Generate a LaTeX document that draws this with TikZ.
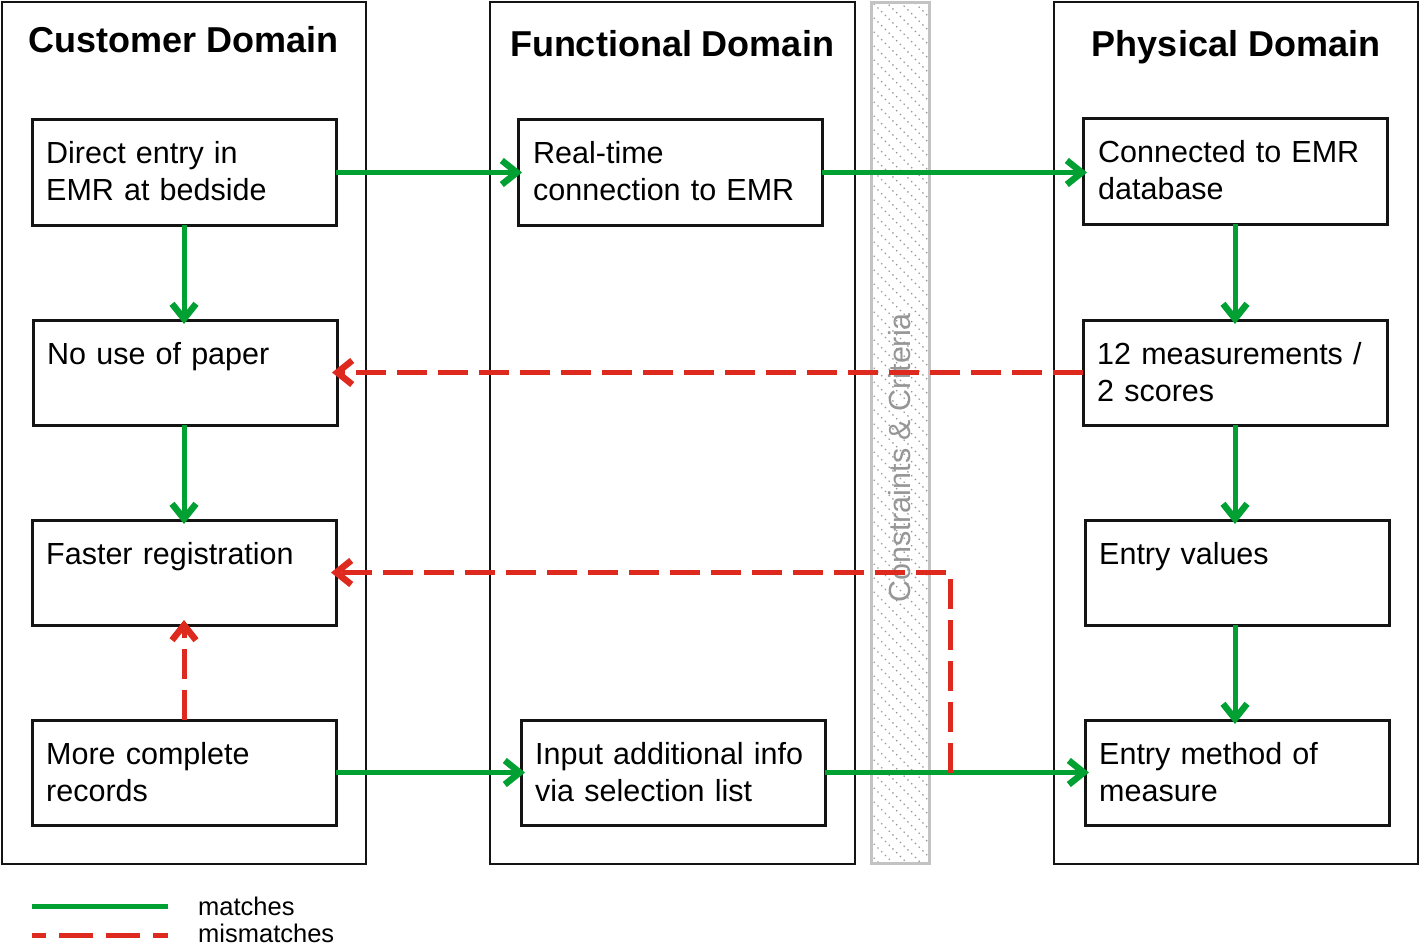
\documentclass[tikz,border=0pt]{standalone}
\usepackage{fontspec}
\setmainfont{Liberation Sans}
\usetikzlibrary{arrows.meta,calc}
\definecolor{mgreen}{RGB}{0,160,50}
\definecolor{mred}{RGB}{222,42,30}
\definecolor{cgray}{RGB}{150,150,150}
\definecolor{cborder}{RGB}{195,195,195}
\begin{document}
\begin{tikzpicture}[x=1pt,y=-1pt,
  dombox/.style={draw=black!92, line width=2.8pt},
  itembox/.style={draw=black!92, line width=3pt, minimum width=304pt, minimum height=105pt, inner sep=0pt, outer sep=0pt, anchor=north west},
  itemlbl/.style={font=\fontsize{30.5}{37}\selectfont, anchor=base west, align=left, inner sep=0pt, text width=300pt},
  domtitle/.style={font=\fontsize{36}{40}\selectfont\bfseries, anchor=base, inner sep=0pt},
  legtext/.style={font=\fontsize{25.5}{30}\selectfont, anchor=base west, inner sep=0pt},
  matcharrow/.style={draw=mgreen, line width=5pt, -{Straight Barb[length=15pt,width=24pt,line width=0pt 1.3]}, shorten >=-4pt},
  mismatcharrow/.style={draw=mred, line width=5pt, dash pattern=on 30pt off 11pt, -{Straight Barb[length=15pt,width=24pt,line width=0pt 1.3]}, shorten >=-5pt},
]
\useasboundingbox (0,0) rectangle (1420,944);

% domains
\draw[dombox] (2,2) rectangle (366,864);
\draw[dombox] (490,2) rectangle (855,864);
\draw[dombox] (1054,2) rectangle (1418,864);
\node[domtitle] (tc) at (184,53) {Customer Domain};
\node[domtitle] (tf) at (672,57) {Functional Domain};
\node[domtitle] (tp) at (1236,57) {Physical Domain};

% constraints column
\begin{scope}
  \clip (871,3) rectangle (929,863);
  \foreach \i in {-6,...,66} {
    \draw[cgray, line width=1.1pt, dash pattern=on 1.3pt off 4pt] (870,14*\i) -- (935,14*\i+65);
  }
\end{scope}
\draw[cborder, line width=3pt] (871,3) rectangle (929,863);
\node[rotate=90, anchor=base, text=cgray, font=\fontsize{30.5}{37}\selectfont, inner sep=0pt] (cc) at (910,458) {Constraints \& Criteria};

% boxes
\node[itembox] (b1) at (32,120) {};
\node[itembox] (b2) at (33,320) {};
\node[itembox] (b3) at (32,520) {};
\node[itembox] (b4) at (32,720) {};
\node[itembox] (f1) at (518,120) {};
\node[itembox] (f2) at (521,720) {};
\node[itembox] (p1) at (1083,119) {};
\node[itembox] (p2) at (1083,320) {};
\node[itembox] (p3) at (1085,520) {};
\node[itembox] (p4) at (1085,720) {};

\node[itemlbl] (t1) at ($(b1.north west)+(14,44)$) {Direct entry in\\EMR at bedside};
\node[itemlbl] (t2) at ($(b2.north west)+(14,44)$) {No use of paper};
\node[itemlbl] (t3) at ($(b3.north west)+(14,44)$) {Faster registration};
\node[itemlbl] (t4) at ($(b4.north west)+(14,44)$) {More complete\\records};
\node[itemlbl] (t5) at ($(f1.north west)+(15,44)$) {Real-time\\connection to EMR};
\node[itemlbl] (t6) at ($(f2.north west)+(14,44)$) {Input additional info\\via selection list};
\node[itemlbl] (t7) at ($(p1.north west)+(15,44)$) {Connected to EMR\\database};
\node[itemlbl] (t8) at ($(p2.north west)+(14,44)$) {12 measurements /\\2 scores};
\node[itemlbl] (t9) at ($(p3.north west)+(14,44)$) {Entry values};
\node[itemlbl] (t10) at ($(p4.north west)+(14,44)$) {Entry method of\\measure};

% green connectors
\draw[matcharrow] (b1.east) -- (f1.west);
\draw[matcharrow] (f1.east) -- (p1.west |- f1.east);
\draw[matcharrow] (b1.south) -- (b1.south |- b2.north);
\draw[matcharrow] (b2.south -| b1.south) -- (b1.south |- b3.north);
\draw[matcharrow] (p1.south) -- (p1.south |- p2.north);
\draw[matcharrow] (p2.south) -- (p2.south |- p3.north);
\draw[matcharrow] (p3.south -| p2.south) -- (p2.south |- p4.north);
\draw[matcharrow] (b4.east) -- (f2.west);
\draw[matcharrow] (f2.east) -- (p4.west);

% red connectors
\coordinate (j) at (950,773);
\draw[mismatcharrow] (p2.west) -- (b2.east);
\draw[mismatcharrow] (j) |- (b3.east);
\draw[mismatcharrow] (b4.north -| b1.south) -- (b1.south |- b3.south);

% legend
\coordinate (lg1) at (32,906);
\coordinate (lg2) at (168,906);
\coordinate (lr1) at (32,935);
\coordinate (lr2) at (168,935);
\draw[mgreen, line width=5pt] (lg1) -- (lg2);
\draw[mred, line width=5pt, dash pattern=on 34pt off 13pt, dash phase=20pt] (lr1) -- (lr2);
\node[legtext] (lm) at (198,915) {matches};
\node[legtext] (lmm) at (198,942) {mismatches};
\end{tikzpicture}
\end{document}
